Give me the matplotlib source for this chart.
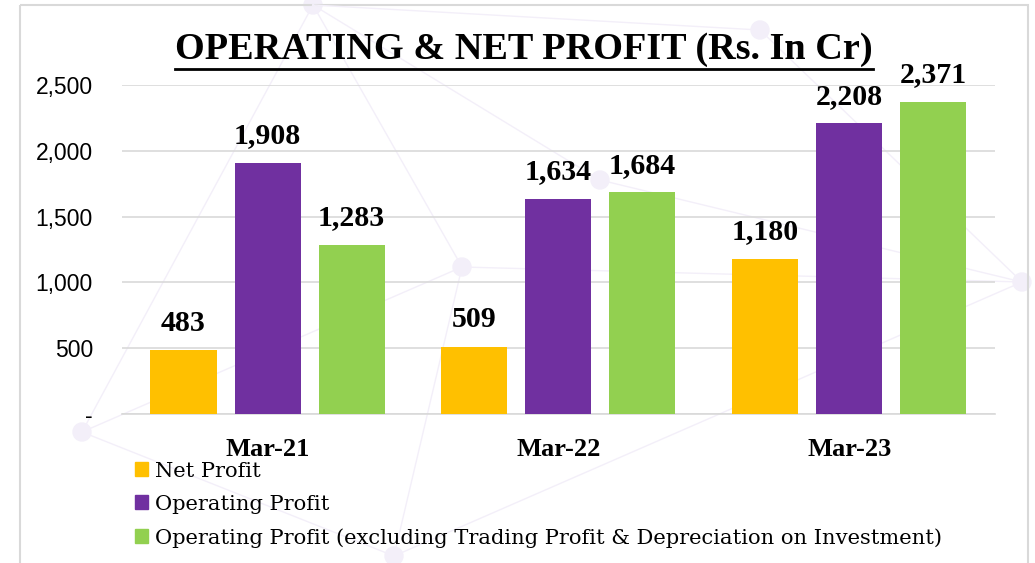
import numpy as np
import matplotlib
matplotlib.use('Agg')
import matplotlib.pyplot as plt
from matplotlib.patches import Rectangle, Circle
from matplotlib.lines import Line2D

# data
periods = ['Mar-21', 'Mar-22', 'Mar-23']
net_profit = [483, 509, 1180]
operating_profit = [1908, 1634, 2208]
operating_excl = [1283, 1684, 2371]
series_names = ['Net Profit', 'Operating Profit',
                'Operating Profit (excluding Trading Profit & Depreciation on Investment)']
colors = ['#FFC000', '#7030A0', '#92D050']

serif = ['Liberation Serif', 'DejaVu Serif']

fig = plt.figure(figsize=(10.35, 5.63), dpi=100)

# faint decorative network in the background
bg = fig.add_axes([0, 0, 1, 1], zorder=-5)
bg.set_xlim(0, 1035)
bg.set_ylim(563, 0)
bg.axis('off')
nodes = [(313, 5), (82, 432), (462, 267), (394, 556), (1022, 282), (600, 180), (760, 30)]
edges = [(0, 1), (0, 2), (1, 2), (1, 3), (2, 3), (2, 4), (0, 5), (5, 4), (0, 6), (6, 4), (3, 4)]
for a, b in edges:
  bg.plot([nodes[a][0], nodes[b][0]], [nodes[a][1], nodes[b][1]], color='#f3eff9', lw=1)
for x, y in nodes:
  bg.add_patch(Circle((x, y), 9, color='#f3eff9'))
# outer chart frame
bg.add_patch(Rectangle((20, 5), 1008, 600, fill=False, edgecolor='#d9d9d9', lw=1.5))

ax = fig.add_axes([0.118, 0.2647, 0.843, 0.5843])
ax.patch.set_alpha(0)
x = np.arange(len(periods))
w = 0.227
step = 0.289
for i, vals in enumerate([net_profit, operating_profit, operating_excl]):
  rects = ax.bar(x + (i - 1) * step, vals, width=w, color=colors[i], label=series_names[i], zorder=3)
  for r in rects:
    h = r.get_height()
    ax.text(r.get_x() + r.get_width() / 2, h + 105, f'{int(h):,}', ha='center', va='bottom',
            fontsize=21.5, fontweight='bold', family=serif)

ax.set_xlim(-0.5, 2.5)
ax.set_ylim(0, 2500)
ax.set_yticks(range(0, 2501, 500))
ax.set_yticklabels(['-'] + [f'{v:,}' for v in range(500, 2501, 500)],
                   fontsize=16.5, family=['Liberation Sans', 'DejaVu Sans'])
ax.yaxis.grid(True, color='#d9d9d9', lw=1.2, zorder=0)
ax.tick_params(axis='y', length=0, pad=21)
ax.tick_params(axis='x', length=0, pad=17)
ax.set_xticks(x)
ax.set_xticklabels(periods, fontsize=19, fontweight='bold', family=serif)
for s in ['top', 'right', 'left']:
  ax.spines[s].set_visible(False)
ax.spines['bottom'].set_color('#d9d9d9')
ax.spines['bottom'].set_linewidth(1.2)

title = fig.text(0.506, 0.912, 'OPERATING & NET PROFIT (Rs. In Cr)', ha='center', va='center',
                 fontsize=27.5, fontweight='bold', family=serif)
# underline for the title
fig.canvas.draw()
bb = title.get_window_extent()
fig.add_artist(Line2D([bb.x0 / fig.bbox.width, bb.x1 / fig.bbox.width],
                      [bb.y0 / fig.bbox.height - 0.004] * 2, color='black', lw=2))

handles = [Rectangle((0, 0), 1, 1, color=c) for c in colors]
fig.legend(handles, series_names, loc='upper left', bbox_to_anchor=(0.122, 0.195),
           frameon=False, prop={'family': ['DejaVu Serif'], 'size': 15.1}, handlelength=0.65,
           handleheight=0.65, handletextpad=0.3, labelspacing=0.68, borderaxespad=0)

plt.savefig('out.png', dpi=100)
